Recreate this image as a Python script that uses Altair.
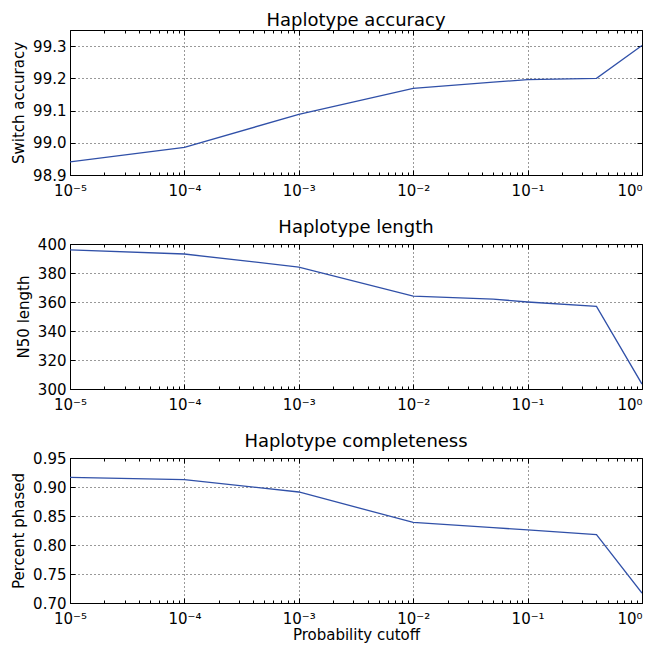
import altair as alt
import pandas as pd

# ---- data ----
cutoff = [1e-5, 1e-4, 1e-3, 1e-2, 0.05, 0.1, 0.4, 1.0]
switch_accuracy = [98.941, 98.986, 99.088, 99.169, 99.188, 99.196, 99.200, 99.302]
n50_length = [395.9, 393.1, 384.1, 364.1, 362.0, 360.0, 357.0, 303.4]
percent_phased = [0.9166, 0.9126, 0.8914, 0.839, 0.830, 0.826, 0.8178, 0.717]

x_major = [1e-5, 1e-4, 1e-3, 1e-2, 1e-1, 1.0]
x_labels = ["10⁻⁵", "10⁻⁴", "10⁻³", "10⁻²", "10⁻¹", "10⁰"]
x_minor = [k * 10.0 ** e for e in range(-5, 0) for k in range(2, 10)]

panel_titles = ["Haplotype accuracy", "Haplotype length", "Haplotype completeness"]
y_titles = ["Switch accuracy", "N50 length", "Percent phased"]
x_title = "Probability cutoff"

y1_ticks = [98.9, 99.0, 99.1, 99.2, 99.3]
y2_ticks = [300, 320, 340, 360, 380, 400]
y3_ticks = [0.70, 0.75, 0.80, 0.85, 0.90, 0.95]

df = pd.DataFrame({
    "cutoff": cutoff,
    "switch": switch_accuracy,
    "n50": n50_length,
    "phased": percent_phased,
})

LINE = "#3050a8"
FONT = "DejaVu Sans"
label_expr = "[" + ",".join("'%s'" % s for s in x_labels) + "][round(log(datum.value)/LN10)+5]"

W, H = 572, 145
MAJ, MIN = 5, 3


def panel(field, title, ytitle, ydomain, yticks, yfmt, xtitle):
    base = alt.Chart(df)
    xs = alt.Scale(type="log", domain=[1e-5, 1.0])
    ys = alt.Scale(domain=ydomain, nice=False, zero=False)
    xaxis = dict(orient="bottom", values=x_major, labelExpr=label_expr, ticks=False,
                 domain=False, grid=True, labelPadding=8, labelFlush=False,
                 labelAlign={"condition": {"test": "datum.value >= 1", "value": "right"},
                             "value": "center"})
    if xtitle:
        xaxis["title"] = xtitle
        xaxis["titlePadding"] = 1
    else:
        xaxis["title"] = None
    line = base.mark_line(color=LINE, strokeWidth=1.3, clip=True).encode(
        x=alt.X("cutoff:Q", scale=xs, axis=alt.Axis(**xaxis)),
        y=alt.Y(f"{field}:Q", scale=ys,
                axis=alt.Axis(orient="left", values=yticks, format=yfmt, ticks=False,
                              domain=False, grid=True, title=ytitle, labelPadding=4,
                              titlePadding=6)),
    )

    def ticks(xorient, xvals, size, yorient=None):
        enc = dict(
            x=alt.X("cutoff:Q", scale=xs,
                    axis=alt.Axis(orient=xorient, values=xvals, offset=-size, tickSize=size,
                                  labels=False, domain=False, grid=False, title=None)),
        )
        if yorient:
            enc["y"] = alt.Y(f"{field}:Q", scale=ys,
                             axis=alt.Axis(orient=yorient, values=yticks, offset=-size,
                                           tickSize=size, labels=False, domain=False,
                                           grid=False, title=None))
        else:
            enc["y"] = alt.Y(f"{field}:Q", scale=ys, axis=None)
        return base.mark_point(opacity=0).encode(**enc)

    layers = [
        line,
        ticks("bottom", x_major, MAJ, "left"),
        ticks("top", x_major, MAJ, "right"),
        ticks("bottom", x_minor, MIN),
        ticks("top", x_minor, MIN),
    ]
    return alt.layer(*layers).resolve_axis(x="independent", y="independent").properties(
        width=W, height=H, title=alt.TitleParams(title, anchor="middle", frame="group", offset=0)
    )


p1 = panel("switch", panel_titles[0], y_titles[0], [98.9, 99.35], y1_ticks, ".1f", None)
p2 = panel("n50", panel_titles[1], y_titles[1], [300, 400], y2_ticks, "d", None)
p3 = panel("phased", panel_titles[2], y_titles[2], [0.70, 0.95], y3_ticks, ".2f", x_title)

chart = alt.vconcat(p1, p2, p3, spacing=69, bounds="flush").properties(
    padding={"left": 3, "top": 3, "right": 0, "bottom": 0}
).configure_view(
    stroke="black", strokeWidth=1
).configure_axis(
    labelFont=FONT, labelFontSize=15, labelColor="black",
    titleFont=FONT, titleFontSize=15, titleFontWeight="normal", titleColor="black",
    gridColor="black", gridDash=[1, 3], gridOpacity=0.8, gridWidth=1,
    tickColor="black", tickWidth=1,
).configure_title(
    font=FONT, fontSize=18, fontWeight="normal", color="black"
)

chart.save("out.html", embed_options={"renderer": "svg", "actions": False})
